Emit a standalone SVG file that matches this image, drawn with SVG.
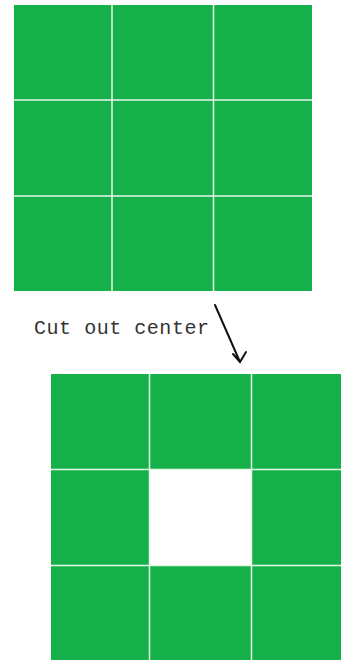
<svg xmlns="http://www.w3.org/2000/svg" width="341" height="660" viewBox="0 0 341 660">
<style>
.c{fill:#16b04a}
.g{stroke:#e8f5ea;stroke-width:1.5;fill:none}
.t{font-family:"Liberation Mono","Courier New",monospace;font-size:20px;fill:#333}
.a{stroke:#111;stroke-width:2;fill:none;stroke-linecap:round}
</style>
<rect width="341" height="660" fill="#ffffff"/>
<g id="grid-full">
<rect class="c" x="14" y="5" width="298" height="286"/>
<path class="g" d="M112,5V291M213.5,5V291M14,100H312M14,196H312"/>
</g>
<g id="label">
<text class="t" x="34" y="334" textLength="175" lengthAdjust="spacing">Cut out center</text>
</g>
<g id="connectors">
<path class="a" d="M215,305L240,362M233,354L240,362L246,352"/>
</g>
<g id="grid-cut">
<rect class="c" x="51" y="374" width="300" height="290"/>
<rect x="149.5" y="469.5" width="102" height="96" fill="#ffffff"/>
<path class="g" d="M149.5,374V660M251.5,374V660M51,469.5H341M51,565.5H341"/>
</g>
</svg>
